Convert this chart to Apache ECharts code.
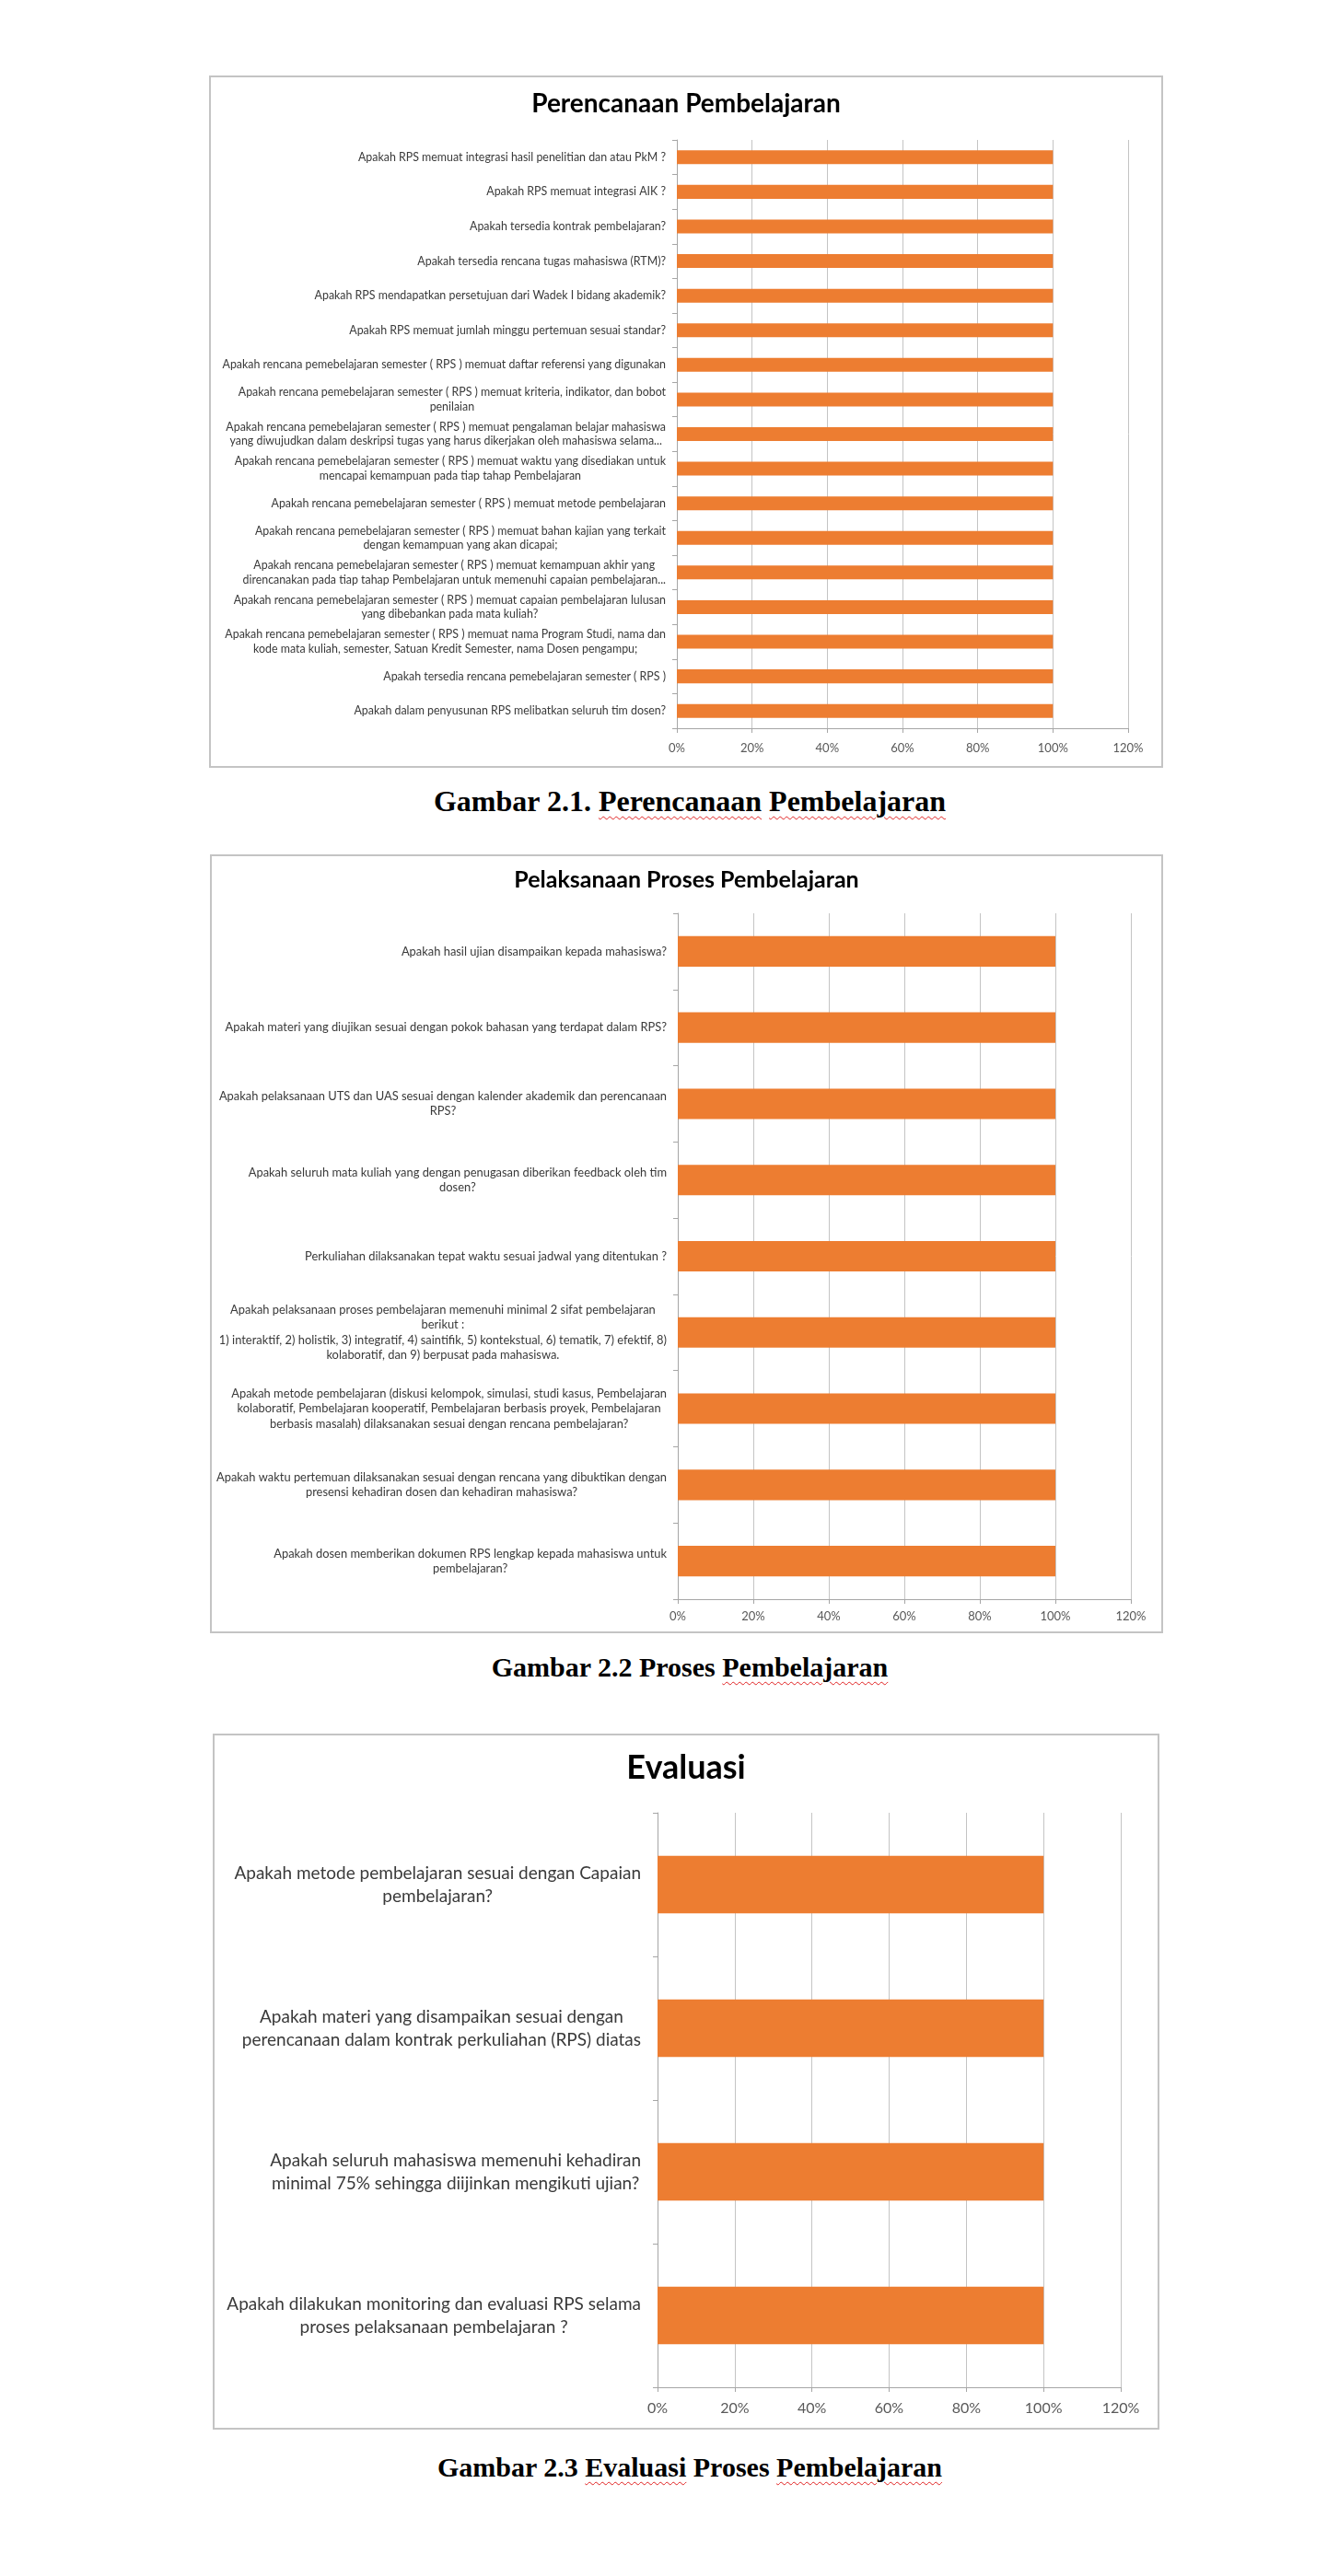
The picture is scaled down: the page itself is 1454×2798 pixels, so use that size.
<!DOCTYPE html>
<html><head><meta charset="utf-8">
<script src="https://cdn.jsdelivr.net/npm/echarts@6/dist/echarts.min.js"></script>
<style>
html,body{margin:0;padding:0;background:#fff;}
body{width:1454px;height:2798px;position:relative;overflow:hidden;}
.box{position:absolute;box-sizing:border-box;border:2px solid #c4c4c4;background:#fff;}
.chart{width:100%;height:100%;}
.cap{position:absolute;left:0;width:1498px;text-align:center;font-family:'Liberation Serif','Times New Roman',serif;font-weight:bold;font-size:30px;color:#000;line-height:36px;white-space:nowrap;}
.sp{text-decoration:underline wavy #e02020;text-decoration-thickness:1px;text-underline-offset:5px;}
</style></head>
<body>
<div class="box" style="left:227px;top:82px;width:1036px;height:752px;"><div id="c1" class="chart"></div></div>
<div class="cap" style="top:852px;font-size:32px;">Gambar 2.1. <span class="sp">Perencanaan</span> <span class="sp">Pembelajaran</span></div>
<div class="box" style="left:228px;top:928px;width:1035px;height:846px;"><div id="c2" class="chart"></div></div>
<div class="cap" style="top:1793px;">Gambar 2.2 Proses <span class="sp">Pembelajaran</span></div>
<div class="box" style="left:231px;top:1883px;width:1028px;height:756px;"><div id="c3" class="chart"></div></div>
<div class="cap" style="top:2662px;">Gambar 2.3 <span class="sp">Evaluasi</span> Proses <span class="sp">Pembelajaran</span></div>
<script>
// ---------- Data ----------
const perencanaanTitle = 'Perencanaan Pembelajaran';
const perencanaanCategories = [
  'Apakah RPS memuat integrasi hasil penelitian dan atau PkM ?',
  'Apakah RPS memuat integrasi AIK ?',
  'Apakah tersedia kontrak pembelajaran?',
  'Apakah tersedia rencana tugas mahasiswa (RTM)?',
  'Apakah RPS mendapatkan persetujuan dari Wadek I bidang akademik?',
  'Apakah RPS memuat jumlah minggu pertemuan sesuai standar?',
  'Apakah rencana pemebelajaran semester ( RPS ) memuat daftar referensi yang digunakan',
  'Apakah rencana pemebelajaran semester ( RPS ) memuat kriteria, indikator, dan bobot\npenilaian',
  'Apakah rencana pemebelajaran semester ( RPS ) memuat pengalaman belajar mahasiswa\nyang diwujudkan dalam deskripsi tugas yang harus dikerjakan oleh mahasiswa selama...',
  'Apakah rencana pemebelajaran semester ( RPS ) memuat waktu yang disediakan untuk\nmencapai kemampuan pada tiap tahap Pembelajaran',
  'Apakah rencana pemebelajaran semester ( RPS ) memuat metode pembelajaran',
  'Apakah rencana pemebelajaran semester ( RPS ) memuat bahan kajian yang terkait\ndengan kemampuan yang akan dicapai;',
  'Apakah rencana pemebelajaran semester ( RPS ) memuat kemampuan akhir yang\ndirencanakan pada tiap tahap Pembelajaran untuk memenuhi capaian pembelajaran...',
  'Apakah rencana pemebelajaran semester ( RPS ) memuat capaian pembelajaran lulusan\nyang dibebankan pada mata kuliah?',
  'Apakah rencana pemebelajaran semester ( RPS ) memuat nama Program Studi, nama dan\nkode mata kuliah, semester, Satuan Kredit Semester, nama Dosen pengampu;',
  'Apakah tersedia rencana pemebelajaran semester ( RPS )',
  'Apakah dalam penyusunan RPS melibatkan seluruh tim dosen?'
];
const perencanaanValues = [1,1,1,1,1,1,1,1,1,1,1,1,1,1,1,1,1];

const pelaksanaanTitle = 'Pelaksanaan Proses Pembelajaran';
const pelaksanaanCategories = [
  'Apakah hasil ujian disampaikan kepada mahasiswa?',
  'Apakah materi yang diujikan sesuai dengan pokok bahasan yang terdapat dalam RPS?',
  'Apakah pelaksanaan UTS dan UAS sesuai dengan kalender akademik dan perencanaan\nRPS?',
  'Apakah seluruh mata kuliah yang dengan penugasan diberikan feedback oleh tim\ndosen?',
  'Perkuliahan dilaksanakan tepat waktu sesuai jadwal yang ditentukan ?',
  'Apakah pelaksanaan proses pembelajaran memenuhi minimal 2 sifat pembelajaran\nberikut :\n1) interaktif, 2) holistik, 3) integratif, 4) saintifik, 5) kontekstual, 6) tematik, 7) efektif, 8)\nkolaboratif, dan 9) berpusat pada mahasiswa.',
  'Apakah metode pembelajaran (diskusi kelompok, simulasi, studi kasus, Pembelajaran\nkolaboratif, Pembelajaran kooperatif, Pembelajaran berbasis proyek, Pembelajaran\nberbasis masalah) dilaksanakan sesuai dengan rencana pembelajaran?',
  'Apakah waktu pertemuan dilaksanakan sesuai dengan rencana yang dibuktikan dengan\npresensi kehadiran dosen dan kehadiran mahasiswa?',
  'Apakah dosen memberikan dokumen RPS lengkap kepada mahasiswa untuk\npembelajaran?'
];
const pelaksanaanValues = [1,1,1,1,1,1,1,1,1];

const evaluasiTitle = 'Evaluasi';
const evaluasiCategories = [
  'Apakah metode pembelajaran sesuai dengan Capaian\npembelajaran?',
  'Apakah materi yang disampaikan sesuai dengan\nperencanaan dalam kontrak perkuliahan (RPS) diatas',
  'Apakah seluruh mahasiswa memenuhi kehadiran\nminimal 75% sehingga diijinkan mengikuti ujian?',
  'Apakah dilakukan monitoring dan evaluasi RPS selama\nproses pelaksanaan pembelajaran ?'
];
const evaluasiValues = [1,1,1,1];

const axisMin = 0, axisMax = 1.2, axisStep = 0.2;

// ---------- Builder ----------
const FONT = 'Lato';
function richLines(v){ return v.split('\n').map(s => '{c|' + s + '}').join('\n'); }

function makeOption(cfg){
  return {
    animation: false,
    title: {
      text: cfg.title, left: 'center', top: cfg.titleTop, padding: 0,
      textStyle: { fontFamily: FONT, fontWeight: 'bold', fontSize: cfg.titleSize, color: '#000' }
    },
    grid: { left: cfg.grid[0], top: cfg.grid[1], width: cfg.grid[2], height: cfg.grid[3], containLabel: false, outerBoundsMode: 'none' },
    xAxis: {
      type: 'value', min: axisMin, max: axisMax, interval: axisStep,
      axisLine: { show: true, lineStyle: { color: '#a6a6a6', width: 1 } },
      axisTick: { show: true, length: 5, lineStyle: { color: '#a6a6a6' } },
      splitLine: { show: true, lineStyle: { color: '#c4c4c4', width: 1 } },
      axisLabel: { formatter: v => Math.round(v * 100) + '%', color: '#595959', fontFamily: FONT, fontSize: cfg.tickSize, margin: cfg.tickMargin }
    },
    yAxis: {
      type: 'category', inverse: true, data: cfg.categories,
      axisLine: { show: true, lineStyle: { color: '#a6a6a6', width: 1 } },
      axisTick: { show: true, length: 5, lineStyle: { color: '#a6a6a6' } },
      splitLine: { show: false },
      axisLabel: {
        interval: 0, margin: cfg.labelMargin, formatter: richLines,
        color: '#3a3a3a', fontFamily: FONT, fontSize: cfg.labelSize,
        rich: { c: { align: 'center', fontFamily: FONT, fontSize: cfg.labelSize, lineHeight: cfg.labelLine, color: '#3a3a3a' } }
      }
    },
    series: [{ type: 'bar', data: cfg.values, barCategoryGap: '60%', itemStyle: { color: '#ED7D31' }, silent: true }]
  };
}

echarts.init(document.getElementById('c1')).setOption(makeOption({
  title: perencanaanTitle, titleTop: 15, titleSize: 28,
  grid: [506, 68, 490, 639],
  categories: perencanaanCategories, values: perencanaanValues,
  labelSize: 12.4, labelLine: 15.3, labelMargin: 12, tickSize: 13, tickMargin: 15
}));
echarts.init(document.getElementById('c2')).setOption(makeOption({
  title: pelaksanaanTitle, titleTop: 13, titleSize: 25,
  grid: [506, 62, 492, 745],
  categories: pelaksanaanCategories, values: pelaksanaanValues,
  labelSize: 12.9, labelLine: 16.4, labelMargin: 12, tickSize: 13, tickMargin: 12
}));
echarts.init(document.getElementById('c3')).setOption(makeOption({
  title: evaluasiTitle, titleTop: 17, titleSize: 36,
  grid: [481, 84, 503, 624],
  categories: evaluasiCategories, values: evaluasiValues,
  labelSize: 19, labelLine: 25, labelMargin: 18, tickSize: 16, tickMargin: 15
}));
</script>
</body></html>
